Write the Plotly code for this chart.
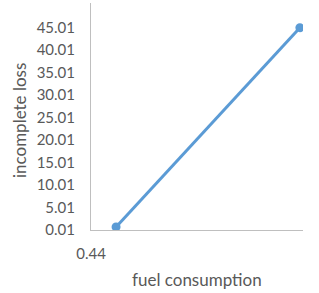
import plotly.graph_objects as go

fuel_consumption = [0.452, 0.54]
incomplete_loss = [0.67, 45.01]
y_ticks = [0.01, 5.01, 10.01, 15.01, 20.01, 25.01, 30.01, 35.01, 40.01, 45.01]
x_ticks = [0.44]

fig = go.Figure()
fig.add_trace(go.Scatter(
    x=fuel_consumption, y=incomplete_loss, mode="lines+markers",
    line=dict(color="#5B9BD5", width=3),
    marker=dict(color="#5B9BD5", size=9),
    showlegend=False,
))
font = dict(family="Lato, Open Sans, sans-serif", color="#595959")
fig.update_layout(
    width=319, height=293,
    margin=dict(l=91, r=16, t=3, b=63),
    paper_bgcolor="white", plot_bgcolor="white",
    font=dict(**font, size=15),
)
fig.update_xaxes(
    range=[0.44, 0.5415], tickvals=x_ticks, ticktext=["0.44"],
    showgrid=False, zeroline=False, showline=True, linecolor="#BFBFBF", linewidth=1,
    ticks="", ticklabelstandoff=10, tickfont=dict(size=15, color="#595959"),
    automargin=False,
)
fig.update_yaxes(
    range=[0.01, 50.5], tickvals=y_ticks, ticktext=[f"{v:.2f}" for v in y_ticks],
    showgrid=False, zeroline=False, showline=True, linecolor="#BFBFBF", linewidth=1,
    ticks="", ticklabelstandoff=12, tickfont=dict(size=15, color="#595959"),
    automargin=False,
)
fig.add_annotation(
    text="fuel consumption", xref="paper", yref="paper", x=0.5, y=0,
    xanchor="center", yanchor="middle", yshift=-49, showarrow=False,
    font=dict(size=17, color="#595959"),
)
fig.add_annotation(
    text="incomplete loss", xref="paper", yref="paper", x=0, y=0.48,
    xanchor="center", yanchor="middle", xshift=-72, textangle=-90, showarrow=False,
    font=dict(size=17, color="#595959"),
)
fig.write_html(
    "out.html",
    config={"displayModeBar": False},
    post_script="document.body.style.margin='0';document.body.style.overflow='hidden';",
)
